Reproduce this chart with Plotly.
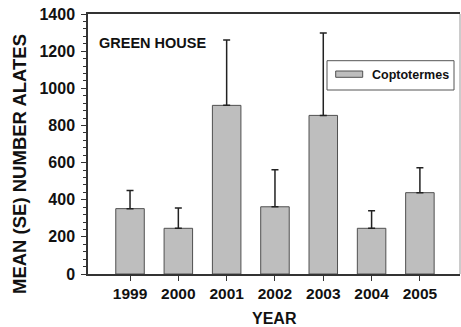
import plotly.graph_objects as go

years = ["1999", "2000", "2001", "2002", "2003", "2004", "2005"]
means = [352, 246, 908, 362, 854, 246, 438]
se = [97, 109, 352, 200, 444, 95, 134]
series_name = "Coptotermes"
panel_label = "GREEN HOUSE"
x_title = "YEAR"
y_title = "MEAN (SE) NUMBER ALATES"

FONT = "Liberation Sans, Arial, sans-serif"
BAR_FILL = "#bebebe"
BAR_LINE = "#505050"
AXIS = "#333333"

fig = go.Figure()
fig.add_trace(go.Bar(
    x=years, y=means, width=0.59,
    marker=dict(color=BAR_FILL, line=dict(color=BAR_LINE, width=1)),
    error_y=dict(type="data", array=se, symmetric=False, arrayminus=[0]*len(se),
                 color="#222222", thickness=1.5, width=3.5),
    showlegend=False,
))

fig.update_layout(
    width=461, height=327,
    margin=dict(l=88, r=1, t=14, b=53),
    paper_bgcolor="white", plot_bgcolor="white",
    font=dict(family=FONT, color="#111111"),
    xaxis=dict(
        type="category", range=[-0.87, 6.83],
        showline=True, linecolor=AXIS, linewidth=1.5, mirror=True,
        ticks="outside", ticklen=5, tickcolor=AXIS, tickwidth=1,
        tickfont=dict(family=FONT, size=15.5, color="#111111", weight="bold"),
        showgrid=False, zeroline=False,
    ),
    yaxis=dict(
        range=[0, 1400], dtick=200,
        showline=True, linecolor=AXIS, linewidth=1.5,
        ticks="outside", ticklen=5, tickcolor=AXIS, tickwidth=1,
        minor=dict(dtick=40, ticks="outside", ticklen=3, tickcolor=AXIS, tickwidth=1),
        tickfont=dict(family=FONT, size=16, color="#111111", weight="bold"),
        ticklabelstandoff=3,
        showgrid=False, zeroline=False,
    ),
    shapes=[
        dict(type="line", xref="paper", yref="paper", x0=1, x1=1, y0=0, y1=1,
             line=dict(color="#999999", width=1)),
        # legend box
        dict(type="rect", xref="paper", yref="paper",
             x0=(327-88)/372, x1=(454-88)/372, y0=(274-90)/260, y1=(274-60.7)/260,
             line=dict(color="#555555", width=1), fillcolor="white"),
        dict(type="rect", xref="paper", yref="paper",
             x0=(335.7-88)/372, x1=(362.7-88)/372, y0=(274-77.3)/260, y1=(274-71)/260,
             line=dict(color=BAR_LINE, width=1), fillcolor=BAR_FILL),
    ],
    annotations=[
        dict(text=series_name, xref="paper", yref="paper",
             x=(370-88)/372, y=(274-75)/260, xanchor="left", yanchor="middle",
             showarrow=False, font=dict(family=FONT, size=12.5, color="#111111", weight="bold")),
        dict(text=panel_label, xref="paper", yref="paper",
             x=(97-88)/372, y=(274-43)/260, xanchor="left", yanchor="middle",
             showarrow=False, font=dict(family=FONT, size=14.5, color="#111111", weight="bold")),
        dict(text=x_title, xref="paper", yref="paper",
             x=0.5, y=(274-318.7)/260, xanchor="center", yanchor="middle",
             showarrow=False, font=dict(family=FONT, size=16, color="#111111", weight="bold")),
        dict(text=y_title, xref="paper", yref="paper", textangle=-90,
             x=(19-88)/372, y=(274-164)/260, xanchor="center", yanchor="middle",
             showarrow=False, font=dict(family=FONT, size=18.5, color="#111111", weight="bold")),
    ],
)

fig.write_html(
    "out.html",
    config={"displayModeBar": False},
    post_script="document.body.style.margin='0';document.body.style.overflow='hidden';",
)
